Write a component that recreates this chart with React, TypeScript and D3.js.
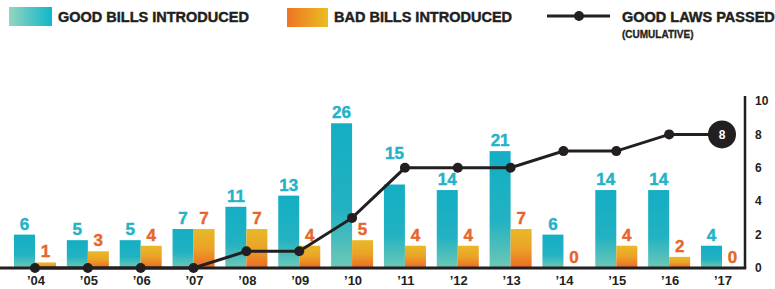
import React from 'react';
import * as d3 from 'd3';

const years = ['04', '05', '06', '07', '08', '09', '10', '11', '12', '13', '14', '15', '16', '17'];
const goodBills = [6, 5, 5, 7, 11, 13, 26, 15, 14, 21, 6, 14, 14, 4];
const badBills = [1, 3, 4, 7, 7, 4, 5, 4, 4, 7, 0, 4, 2, 0];
const goodLaws = [0, 0, 0, 0, 1, 1, 3, 6, 6, 6, 7, 7, 8, 8];
const axisTicks = [0, 2, 4, 6, 8, 10];

const W = 775;
const H = 289;
const base = 268;
const top = 101;
const axisX = 745;
const font = '"Liberation Sans", Arial, sans-serif';
const teal = '#23b2c7';
const orange = '#e8652a';
const ink = '#231f20';

const App = () => {
  const x0 = d3.scaleBand<string>().domain(years).range([14, 743]).paddingInner(0.205).paddingOuter(0);
  const x1 = d3.scaleBand<string>().domain(['good', 'bad']).range([0, x0.bandwidth()]);
  const yLaw = d3.scaleLinear().domain([0, 10]).range([base, top]);
  const yBill = d3.scaleLinear().domain([0, 30]).range([base, top]);
  const cx = (y: string) => (x0(y) as number) + x0.bandwidth() / 2;

  const line = d3.line<number>()
    .x((_, i) => cx(years[i]))
    .y(d => yLaw(d));

  const last = years.length - 1;

  // lift a good-bill label above the law line when they would collide
  const goodLabelY = (i: number) => {
    const baseline = yBill(goodBills[i]) - 5;
    const ly = yLaw(goodLaws[i]);
    if (ly + 5 > baseline - 12 && ly - 5 < baseline) return ly - 9;
    return baseline;
  };

  return (
    <svg width={W} height={H} style={{ position: 'absolute', left: 0, top: 0 }} fontFamily={font}>
      <defs>
        <linearGradient id="goodLeg" x1="0" x2="1" y1="0" y2="0">
          <stop offset="0" stopColor="#93d5bf" />
          <stop offset="1" stopColor="#0fb6cb" />
        </linearGradient>
        <linearGradient id="badLeg" x1="0" x2="1" y1="0" y2="0">
          <stop offset="0" stopColor="#ee7424" />
          <stop offset="1" stopColor="#ebbd22" />
        </linearGradient>
        <linearGradient id="goodBar" x1="0" x2="0" y1="0" y2="1">
          <stop offset="0" stopColor="#14aec4" />
          <stop offset="0.6" stopColor="#22b2c2" />
          <stop offset="1" stopColor="#6ec8b6" />
        </linearGradient>
        <linearGradient id="badBar" x1="0" x2="0" y1="0" y2="1">
          <stop offset="0" stopColor="#e9b927" />
          <stop offset="0.5" stopColor="#eba227" />
          <stop offset="1" stopColor="#ec6a25" />
        </linearGradient>
      </defs>

      {/* legend */}
      <g fontWeight={700} fill={ink} stroke={ink} strokeWidth={0.45}>
        <text x={58} y={22} fontSize={14.5}>GOOD BILLS INTRODUCED</text>
        <text x={334} y={22} fontSize={14.5}>BAD BILLS INTRODUCED</text>
        <text x={622} y={22} fontSize={14.5}>GOOD LAWS PASSED</text>
        <text x={622} y={38} fontSize={10} strokeWidth={0.3}>(CUMULATIVE)</text>
      </g>
      <rect x={9} y={7} width={43} height={19} fill="url(#goodLeg)" />
      <rect x={287} y={8} width={41} height={19} fill="url(#badLeg)" />
      <line x1={547} x2={610} y1={16} y2={16} stroke={ink} strokeWidth={3} />
      <circle cx={579} cy={16} r={5} fill={ink} />

      {/* bars */}
      {years.map((yr, i) => {
        const gx = (x0(yr) as number) + (x1('good') as number);
        const bx = (x0(yr) as number) + (x1('bad') as number);
        const bw = x1.bandwidth();
        return (
          <g key={yr}>
            <rect x={gx} y={yBill(goodBills[i])} width={bw} height={base - yBill(goodBills[i])} fill="url(#goodBar)" />
            <rect x={bx} y={yBill(badBills[i])} width={bw} height={base - yBill(badBills[i])} fill="url(#badBar)" />
            <text x={gx + bw / 2} y={goodLabelY(i)} textAnchor="middle" fontSize={17} fontWeight={700} fill={teal} stroke={teal} strokeWidth={0.4}>{goodBills[i]}</text>
            <text x={bx + bw / 2} y={yBill(badBills[i]) - 5} textAnchor="middle" fontSize={17} fontWeight={700} fill={orange} stroke={orange} strokeWidth={0.4}>{badBills[i]}</text>
            <text x={cx(yr) + 1} y={285} textAnchor="middle" fontSize={13} fontWeight={700} fill={ink}>{'\u2019' + yr}</text>
          </g>
        );
      })}

      {/* axes */}
      <line x1={0} x2={axisX + 1.25} y1={base} y2={base} stroke={ink} strokeWidth={3} />
      <line x1={axisX} x2={axisX} y1={96} y2={base} stroke={ink} strokeWidth={2.5} />
      {axisTicks.map(t => (
        <text key={t} x={755} y={yLaw(t)} dy="0.35em" fontSize={12} fontWeight={700} fill={ink}>{t}</text>
      ))}

      {/* cumulative line */}
      <path d={line(goodLaws) || ''} fill="none" stroke={ink} strokeWidth={3} />
      {goodLaws.map((v, i) => i < last ? (
        <circle key={i} cx={cx(years[i])} cy={yLaw(v)} r={5} fill={ink} />
      ) : null)}
      <circle cx={cx(years[last])} cy={yLaw(goodLaws[last])} r={14} fill={ink} />
      <text x={cx(years[last])} y={yLaw(goodLaws[last])} dy="0.36em" textAnchor="middle" fontSize={12} fontWeight={700} fill="#fff">{goodLaws[last]}</text>
    </svg>
  );
};

export default App;
